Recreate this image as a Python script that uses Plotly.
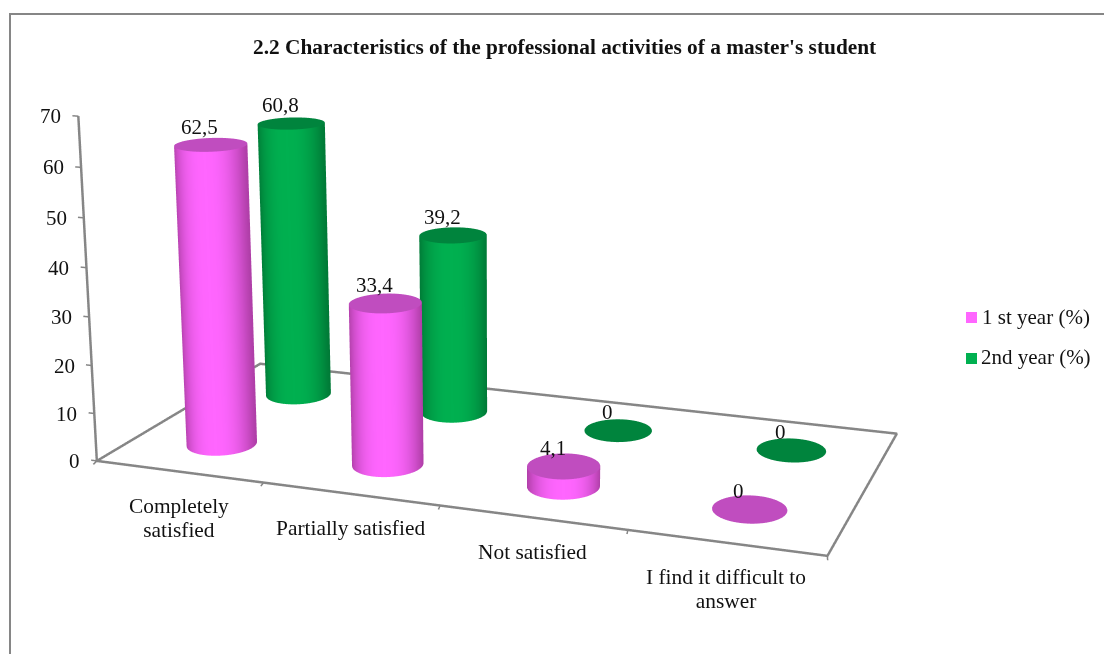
import numpy as np
import plotly.graph_objects as go

# ---- data ----
categories = ["Completely<br>satisfied", "Partially satisfied", "Not satisfied", "I find it difficult to<br>answer"]
series_names = ["1 st year (%)", "2nd year (%)"]
first_year = [62.5, 33.4, 4.1, 0]
second_year = [60.8, 39.2, 0, 0]
value_labels_1 = ["62,5", "33,4", "4,1", "0"]
value_labels_2 = ["60,8", "39,2", "0", "0"]
z_ticks = [0, 10, 20, 30, 40, 50, 60, 70]
title = "2.2 Characteristics of the professional activities of a master's student"

# ---- styles ----
W, H = 1104, 654
FONT = "Liberation Serif"
GRAY = "#868686"
BODY = [("#FF66FF", "#B03FA8", "#C04DBF"), ("#00B050", "#007A37", "#00843D")]
KEY = ["#FF66FF", "#00B050"]

# ---- camera of the original 3-D frame: floor (category u, series v) and value z -> picture ----
frame = [((0,0,0),(97,461),1),((1,0,0),(263,483),1),((2,0,0),(440,506),1),((3,0,0),(627,530),1),
         ((0,1,0),(260,365),1),((4,1,0),(897,432),1),((4,0,0),(828,556),1),
         ((0,0,10),(95,413),1),((0,0,20),(92,365),1),((0,0,30),(89,317),1),((0,0,40),(87,267),1),
         ((0,0,50),(84,218),1),((0,0,60),(81,167),1),((0,0,70),(78,116),1),
         ((0,1,70),(250,57),.15),((4,1,70),(915,124),.15),((4,0,70),(845,206),.15)]
A, B = [], []
for (u,v,z),(px,py),wt in frame:
    w = (u/4, v, z/70, 1)
    A.append([wt*c for c in w]+[0,0,0,0]+[-wt*px/1000*c for c in w[:3]]); B.append(wt*px/1000)
    A.append([0,0,0,0]+[wt*c for c in w]+[-wt*py/1000*c for c in w[:3]]); B.append(wt*py/1000)
p = np.linalg.lstsq(np.array(A), np.array(B), rcond=None)[0]
P = np.array([p[:4], p[4:8], list(p[8:])+[1]])

def picture(u, v, z):
    w = P @ np.array([np.asarray(u)/4, np.asarray(v), np.asarray(z)/70, np.ones_like(np.asarray(u, dtype=float))])
    return w[0]/w[2]*1000, w[1]/w[2]*1000

# ---- orthographic scene ----
TH, PH = np.radians(20), np.radians(20)
RANGE = 3.0
PX_PER = 188.0              # picture pixels per x/y scene data unit
SCALE = PX_PER*RANGE        # pixels per normalised scene unit
ZOOM = 3.45                 # plotly's orthographic scale, measured
AZ = 4.6*40/(SCALE*np.cos(PH))
EYE_D = 2.0

def to_scene(u, v, z):
    u, v, z = np.asarray(u, float), np.asarray(v, float), np.asarray(z, float)
    px, py = picture(u, v, z)
    a = (px - W/2)/PX_PER
    b = (H/2 - py)/PX_PER - (z-35)/40*AZ*RANGE*np.cos(PH)
    w = b/np.sin(PH)
    return a*np.cos(TH) - w*np.sin(TH), a*np.sin(TH) + w*np.cos(TH), z

RU, RV = 0.19, 0.105
V_POS = [0.25, 0.75]
N = 72

def hexrgb(h):
    return np.array([int(h[i:i+2], 16) for i in (1,3,5)], float)

def cylinder(i, s, val):
    center, edge, cap = BODY[s]
    ang = np.linspace(0, 2*np.pi, N, endpoint=False)
    u = i+0.5 + RU*np.cos(ang)
    v = V_POS[s] + RV*np.sin(ang)
    traces = []
    if val > 0:
        sx = np.cos(ang-TH)
        f = np.clip(1-np.abs(sx)**2.5, 0, 1)
        cols = [hexrgb(edge)+(hexrgb(center)-hexrgb(edge))*t for t in f]
        cols = ["rgb(%d,%d,%d)" % tuple(c) for c in cols]
        xb, yb, zb = to_scene(u, v, np.zeros(N))
        xt, yt, zt = to_scene(u, v, np.full(N, val))
        ii = list(range(N))
        jj = [(k+1) % N for k in ii]
        traces.append(go.Mesh3d(
            x=np.r_[xb, xt], y=np.r_[yb, yt], z=np.r_[zb, zt],
            i=ii+[k+N for k in ii], j=jj+jj, k=[k+N for k in ii]+[k+N for k in jj],
            vertexcolor=cols+cols, flatshading=False, hoverinfo="skip", showscale=False,
            lighting=dict(ambient=1, diffuse=0, specular=0, fresnel=0, roughness=1)))
    xc, yc, zc = to_scene(np.r_[i+0.5, u], np.r_[V_POS[s], v], np.full(N+1, val))
    traces.append(go.Mesh3d(
        x=xc, y=yc, z=zc, i=[0]*N, j=list(range(1, N+1)), k=[k % N + 1 for k in range(1, N+1)],
        color=cap, flatshading=True, hoverinfo="skip", showscale=False,
        lighting=dict(ambient=1, diffuse=0, specular=0, fresnel=0, roughness=1)))
    return traces

fig = go.Figure()
values = [first_year, second_year]
labels = [value_labels_1, value_labels_2]
for s in (1, 0):
    for i, val in enumerate(values[s]):
        for t in cylinder(i, s, val):
            fig.add_trace(t)

def line(us, vs, zs, width=5):
    x, y, z = to_scene(us, vs, zs)
    fig.add_trace(go.Scatter3d(x=x, y=y, z=z, mode="lines", line=dict(color=GRAY, width=width),
                               hoverinfo="skip", showlegend=False))

line([0,4,4,0,0], [0,0,1,1,0], [0,0,0,0,0])
line([0,0], [0,0], [0,70])
for t in z_ticks:
    line([0,-0.035], [0,0], [t,t], 3)
for c in range(5):
    line([c,c+0.012], [0,-0.028], [0,0], 3)

ann = []
def note(u, v, z, text, size=21, **kw):
    x, y, zz = to_scene(u, v, z)
    ann.append(dict(x=float(x), y=float(y), z=float(zz), text=text, showarrow=False,
                    font=dict(family=FONT, size=size, color="#111111"), **kw))

for t in z_ticks:
    note(0, 0, t, str(t), xanchor="right", yanchor="middle", xshift=-15, yshift=0)
for i, c in enumerate(categories):
    big = "<br>".join(f'<span style="font-size:21.4px">{part}</span>' for part in c.split("<br>"))
    note(i+0.5, 0, 0, big, size=18.5, xanchor="center", yanchor="top", yshift=-20)
for s in (0, 1):
    for i, val in enumerate(values[s]):
        note(i+0.5, V_POS[s], val, labels[s][i], xanchor="center", yanchor="middle",
             xshift=-11, yshift=18)

fig.update_layout(
    width=W, height=H, margin=dict(l=0, r=0, t=0, b=0), paper_bgcolor="white", showlegend=False,
    scene=dict(
        domain=dict(x=[0, 1], y=[0, 1]),
        xaxis=dict(visible=False, range=[-RANGE, RANGE]),
        yaxis=dict(visible=False, range=[-RANGE, RANGE]),
        zaxis=dict(visible=False, range=[-5, 75]),
        aspectmode="manual", aspectratio=dict(x=ZOOM, y=ZOOM, z=float(AZ*ZOOM)),
        bgcolor="rgba(0,0,0,0)", dragmode=False,
        camera=dict(projection=dict(type="orthographic"),
                    center=dict(x=0, y=0, z=0), up=dict(x=0, y=0, z=1),
                    eye=dict(x=float(EYE_D*np.sin(TH)*np.cos(PH)),
                             y=float(-EYE_D*np.cos(TH)*np.cos(PH)),
                             z=float(EYE_D*np.sin(PH)))),
        annotations=ann),
    shapes=[dict(type="path", xref="paper", yref="paper", line=dict(color=GRAY, width=2),
                 path=f"M {10/W} 0 L {10/W} {1-14/H} L 1 {1-14/H}")] +
           [dict(type="rect", xref="paper", yref="paper", line_width=0, fillcolor=KEY[s],
                 x0=966/W, x1=977/W, y0=1-(323+41*s)/H, y1=1-(312+41*s)/H) for s in (0, 1)],
    annotations=[dict(text=f"<b>{title}</b>", x=564.5/W, y=1-47/H, xref="paper", yref="paper", showarrow=False,
                      xanchor="center", yanchor="middle", font=dict(family=FONT, size=21.35, color="#111111"))] +
                [dict(text=series_names[s], x=(980-s)/W, y=1-(317+40*s)/H, xref="paper", yref="paper", showarrow=False,
                      xanchor="left", yanchor="middle", font=dict(family=FONT, size=21, color="#111111")) for s in (0, 1)],
)
fig.write_html("out.html", post_script="document.body.style.margin='0';document.documentElement.style.overflow='hidden';",
               config=dict(displayModeBar=False))
